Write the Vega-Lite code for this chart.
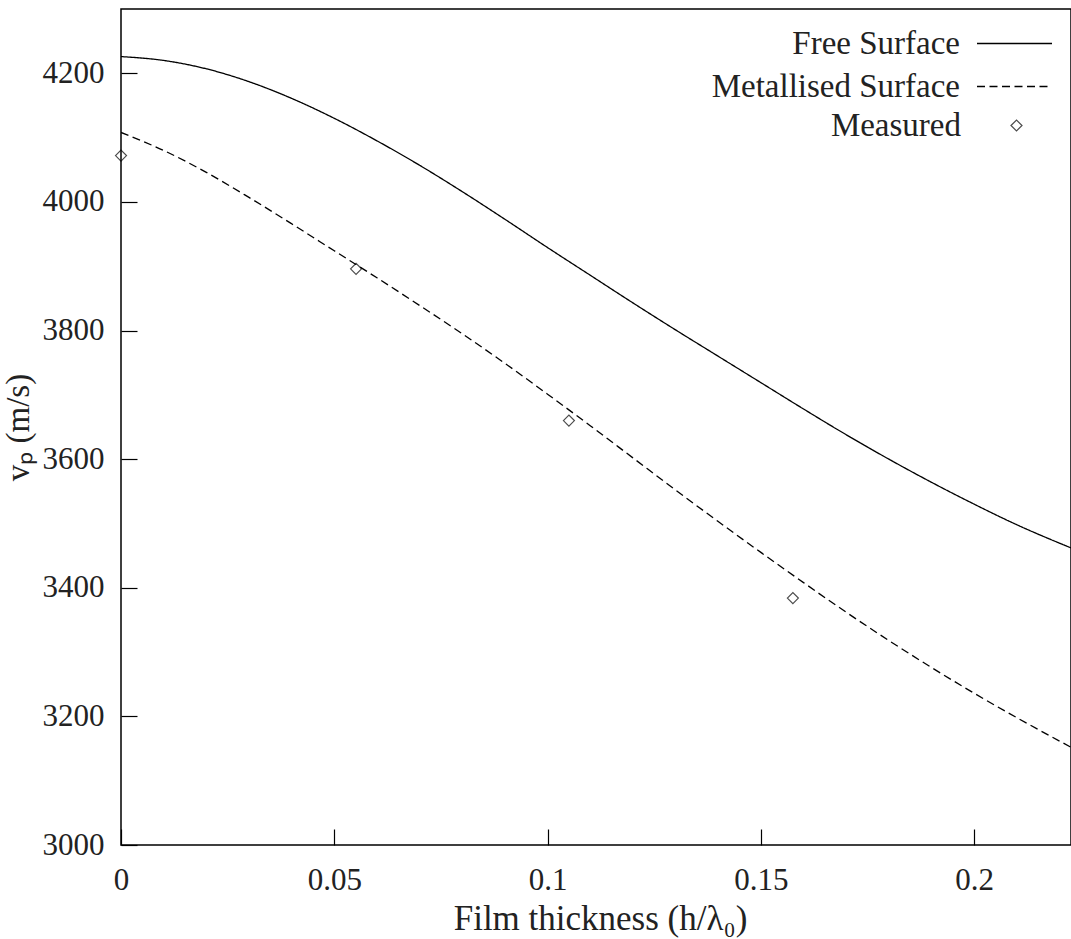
{
  "$schema": "https://vega.github.io/schema/vega-lite/v6.json",
  "width": 950,
  "height": 836,
  "autosize": "none",
  "padding": {"left": 121, "top": 9, "right": 0, "bottom": 94},
  "background": "white",
  "config": {
    "font": "Liberation Serif",
    "view": {"stroke": "#000", "strokeWidth": 1.5},
    "axis": {
      "grid": false,
      "domain": false,
      "offset": -16,
      "tickColor": "#000",
      "tickWidth": 1.2,
      "tickSize": 16,
      "labelFont": "Liberation Serif",
      "labelFontSize": 31,
      "labelColor": "#222",
      "labelFlush": false,
      "labelOverlap": false,
      "titleFont": "Liberation Serif",
      "titleFontSize": 33,
      "titleFontWeight": "normal",
      "titleColor": "#222"
    },
    "legend": {
      "labelFont": "Liberation Serif",
      "labelFontSize": 33,
      "labelColor": "#222",
      "labelLimit": 0,
      "padding": 0
    }
  },
  "datasets": {
    "curves": [
      {"h": 0, "v": 4226, "series": "Free Surface"},
      {"h": 0.01, "v": 4220, "series": "Free Surface"},
      {"h": 0.02, "v": 4207, "series": "Free Surface"},
      {"h": 0.03, "v": 4187, "series": "Free Surface"},
      {"h": 0.04, "v": 4161, "series": "Free Surface"},
      {"h": 0.05, "v": 4130, "series": "Free Surface"},
      {"h": 0.06, "v": 4095, "series": "Free Surface"},
      {"h": 0.07, "v": 4057, "series": "Free Surface"},
      {"h": 0.08, "v": 4016, "series": "Free Surface"},
      {"h": 0.09, "v": 3973, "series": "Free Surface"},
      {"h": 0.1, "v": 3929, "series": "Free Surface"},
      {"h": 0.11, "v": 3886, "series": "Free Surface"},
      {"h": 0.12, "v": 3843, "series": "Free Surface"},
      {"h": 0.13, "v": 3801, "series": "Free Surface"},
      {"h": 0.14, "v": 3760, "series": "Free Surface"},
      {"h": 0.15, "v": 3719, "series": "Free Surface"},
      {"h": 0.16, "v": 3678, "series": "Free Surface"},
      {"h": 0.17, "v": 3638, "series": "Free Surface"},
      {"h": 0.18, "v": 3600, "series": "Free Surface"},
      {"h": 0.19, "v": 3564, "series": "Free Surface"},
      {"h": 0.2, "v": 3530, "series": "Free Surface"},
      {"h": 0.21, "v": 3498, "series": "Free Surface"},
      {"h": 0.2227, "v": 3462, "series": "Free Surface"},
      {"h": 0, "v": 4108, "series": "Metallised Surface"},
      {"h": 0.01, "v": 4080, "series": "Metallised Surface"},
      {"h": 0.02, "v": 4046, "series": "Metallised Surface"},
      {"h": 0.03, "v": 4007, "series": "Metallised Surface"},
      {"h": 0.04, "v": 3966, "series": "Metallised Surface"},
      {"h": 0.05, "v": 3924, "series": "Metallised Surface"},
      {"h": 0.06, "v": 3882, "series": "Metallised Surface"},
      {"h": 0.07, "v": 3839, "series": "Metallised Surface"},
      {"h": 0.08, "v": 3795, "series": "Metallised Surface"},
      {"h": 0.09, "v": 3749, "series": "Metallised Surface"},
      {"h": 0.1, "v": 3701, "series": "Metallised Surface"},
      {"h": 0.11, "v": 3652, "series": "Metallised Surface"},
      {"h": 0.12, "v": 3602, "series": "Metallised Surface"},
      {"h": 0.13, "v": 3552, "series": "Metallised Surface"},
      {"h": 0.14, "v": 3503, "series": "Metallised Surface"},
      {"h": 0.15, "v": 3455, "series": "Metallised Surface"},
      {"h": 0.16, "v": 3408, "series": "Metallised Surface"},
      {"h": 0.17, "v": 3362, "series": "Metallised Surface"},
      {"h": 0.18, "v": 3318, "series": "Metallised Surface"},
      {"h": 0.19, "v": 3276, "series": "Metallised Surface"},
      {"h": 0.2, "v": 3236, "series": "Metallised Surface"},
      {"h": 0.21, "v": 3198, "series": "Metallised Surface"},
      {"h": 0.2227, "v": 3152, "series": "Metallised Surface"}
    ],
    "measured": [
      {"h": 0, "v": 4072, "series": "Measured"},
      {"h": 0.0551, "v": 3896, "series": "Measured"},
      {"h": 0.105, "v": 3660, "series": "Measured"},
      {"h": 0.1575, "v": 3384, "series": "Measured"}
    ]
  },
  "layer": [
    {
      "data": {"name": "curves"},
      "mark": {"type": "line", "color": "#000", "strokeWidth": 1.3, "interpolate": "monotone", "clip": true},
      "encoding": {
        "x": {
          "field": "h", "type": "quantitative",
          "scale": {"domain": [0, 0.2227], "nice": false, "zero": false},
          "axis": {
            "values": [0, 0.05, 0.1, 0.15, 0.2],
            "format": "~g",
            "labelPadding": 20,
            "title": "Film thickness (h/λ₀)",
            "titleFontSize": 35,
            "titleX": 479,
            "titleY": 100,
            "titleBaseline": "alphabetic"
          }
        },
        "y": {
          "field": "v", "type": "quantitative",
          "scale": {"domain": [3000, 4300], "nice": false, "zero": false},
          "axis": {
            "values": [3000, 3200, 3400, 3600, 3800, 4000, 4200],
            "format": "d",
            "labelPadding": 17,
            "title": "vₚ (m/s)",
            "titleAngle": -90,
            "titleX": -109,
            "titleY": 418,
            "titleAlign": "center",
            "titleBaseline": "alphabetic"
          }
        },
        "strokeDash": {
          "field": "series", "type": "nominal",
          "scale": {"domain": ["Free Surface", "Metallised Surface"], "range": [[1, 0], [8, 4.5]]},
          "legend": {
            "title": null,
            "orient": "none",
            "legendX": 877,
            "legendY": 18,
            "symbolType": "M-5,0H5",
            "symbolSize": 225,
            "symbolStrokeColor": "#000",
            "symbolStrokeWidth": 1.3,
            "symbolFillColor": "transparent",
            "labelAlign": "right",
            "labelOffset": -71,
            "rowPadding": 9
          }
        }
      }
    },
    {
      "data": {"name": "measured"},
      "mark": {"type": "point", "filled": false, "color": "#000", "strokeWidth": 1.2, "size": 121},
      "encoding": {
        "x": {"field": "h", "type": "quantitative"},
        "y": {"field": "v", "type": "quantitative"},
        "shape": {
          "field": "series", "type": "nominal",
          "scale": {"domain": ["Measured"], "range": ["diamond"]},
          "legend": {
            "title": null,
            "orient": "none",
            "legendX": 879,
            "legendY": 100,
            "symbolSize": 121,
            "symbolStrokeColor": "#000",
            "symbolStrokeWidth": 1.2,
            "symbolFillColor": "transparent",
            "labelAlign": "right",
            "labelOffset": -72
          }
        }
      }
    }
  ]
}
